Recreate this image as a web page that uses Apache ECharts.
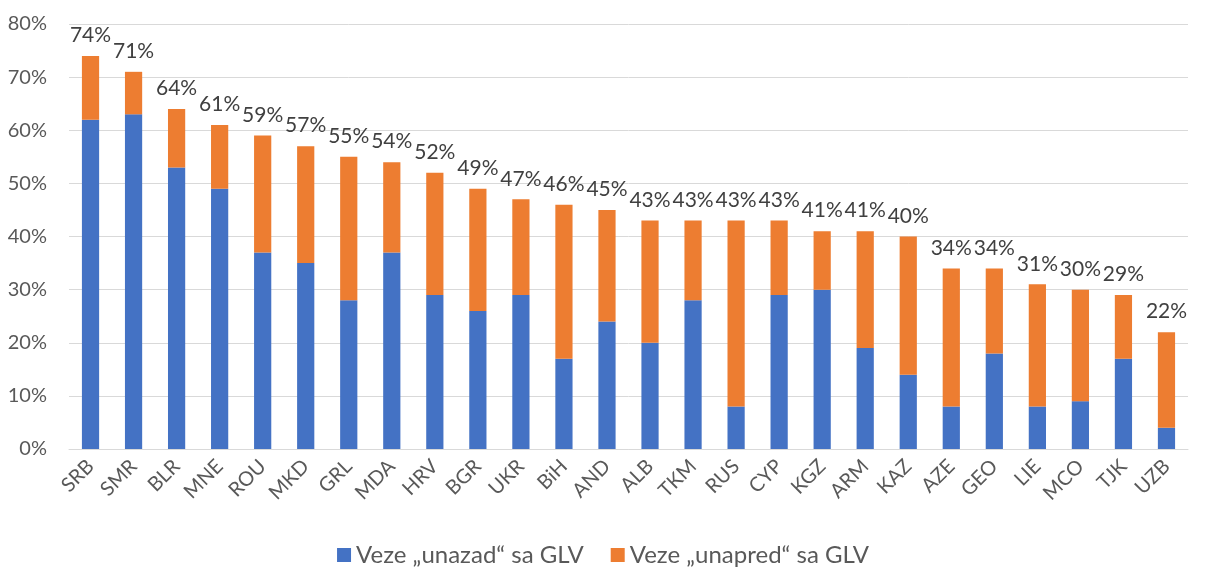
<!DOCTYPE html>
<html><head><meta charset="utf-8">
<script src="https://cdn.jsdelivr.net/npm/echarts@6/dist/echarts.min.js"></script>
<style>html,body{margin:0;padding:0;background:#fff}#c{width:1206px;height:569px}</style>
</head><body><div id="c"></div>
<script>
const categories = ["SRB","SMR","BLR","MNE","ROU","MKD","GRL","MDA","HRV","BGR","UKR","BiH","AND","ALB","TKM","RUS","CYP","KGZ","ARM","KAZ","AZE","GEO","LIE","MCO","TJK","UZB"];
const totals = [74,71,64,61,59,57,55,54,52,49,47,46,45,43,43,43,43,41,41,40,34,34,31,30,29,22];
const backward = [62,63,53,49,37,35,28,37,29,26,29,17,24,20,28,8,29,30,19,14,8,18,8,9,17,4];
const forward = totals.map((t,i)=>t-backward[i]);
const yTicks = [0,10,20,30,40,50,60,70,80];
const seriesNames = ["Veze „unazad“ sa GLV","Veze „unapred“ sa GLV"];

const font = "Lato, 'Open Sans', sans-serif";
const chart = echarts.init(document.getElementById('c'));
chart.setOption({
  animation:false,
  textStyle:{fontFamily:font},
  grid:{left:69,right:18,top:24,bottom:120,containLabel:false},
  legend:{bottom:-3,left:'center',itemWidth:14,itemHeight:14,itemGap:27,icon:'rect',
    textStyle:{fontSize:24,color:'#595959',fontFamily:font},data:seriesNames},
  xAxis:{type:'category',data:categories,
    axisLine:{lineStyle:{color:'#d9d9d9',width:1}},axisTick:{show:false},
    axisLabel:{rotate:45,fontSize:20,color:'#595959',margin:14,interval:0,fontFamily:font}},
  yAxis:{type:'value',min:yTicks[0],max:yTicks[yTicks.length-1],interval:10,
    axisLine:{show:false},axisTick:{show:false},
    splitLine:{lineStyle:{color:'#d9d9d9',width:1}},
    axisLabel:{formatter:'{value}%',fontSize:20,color:'#595959',margin:22,fontFamily:font}},
  series:[
    {name:seriesNames[0],type:'bar',stack:'s',data:backward,barWidth:'40%',
      itemStyle:{color:'#4472c4'}},
    {name:seriesNames[1],type:'bar',stack:'s',data:forward,barWidth:'40%',
      itemStyle:{color:'#ed7d31'},
      label:{show:true,position:'top',distance:10,fontSize:21,color:'#404040',fontFamily:font,
        formatter:p=>totals[p.dataIndex]+'%'}}
  ]
});
</script></body></html>
